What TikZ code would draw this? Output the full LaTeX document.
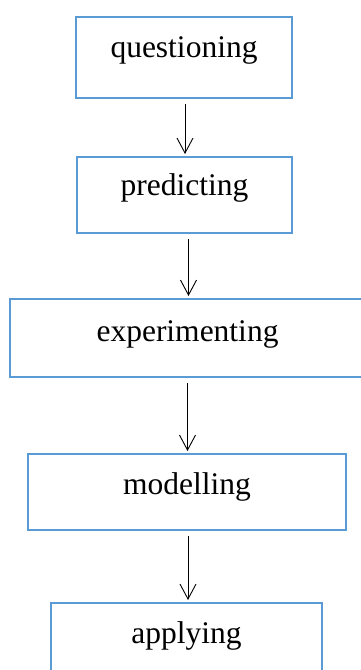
\documentclass[tikz,border=0pt]{standalone}
\usepackage{fontspec}
\setmainfont{Liberation Serif}
\usepackage{tikz}
\usetikzlibrary{arrows.meta, calc}

\definecolor{boxblue}{HTML}{5B9BD5}

\tikzset{
  stage/.style={draw=boxblue, line width=2.2pt, inner sep=0pt,
    text height=38pt, text depth=38pt,
    font=\fontsize{31.5}{38}\selectfont},
  flow/.style={-{Straight Barb[length=15pt,width=16pt]}, line width=0.9pt,
    shorten <=5pt, shorten >=2pt}
}

\begin{document}
\begin{tikzpicture}[x=1pt, y=-1pt]
\useasboundingbox (0,0) rectangle (361,670);

\node[stage, minimum width=216pt, text height=40pt, text depth=41pt] (quest) at (184,16) [anchor=north] {questioning};
\node[stage, minimum width=215pt] (pred) at (184.5,156) [anchor=north] {predicting};
\node[stage, minimum width=355pt, text height=42pt, text depth=36pt] (exper) at (187.5,298) [anchor=north] {experimenting};
\node[stage, minimum width=318pt, text height=40pt, text depth=36pt] (model) at (187,453) [anchor=north] {modelling};
\node[stage, minimum width=271pt, text height=40pt, text depth=36pt] (apply) at (186.5,602) [anchor=north] {applying};

\draw[flow] ($(quest.south)+(1,0)$) -- ($(quest.south |- pred.north)+(1,0)$);
\draw[flow] ($(pred.south)+(4,0)$) -- ($(pred.south |- exper.north)+(4,0)$);
\draw[flow] (exper.south) -- (exper.south |- model.north);
\draw[flow] ($(model.south)+(1,0)$) -- ($(model.south |- apply.north)+(1,0)$);

\end{tikzpicture}
\end{document}
